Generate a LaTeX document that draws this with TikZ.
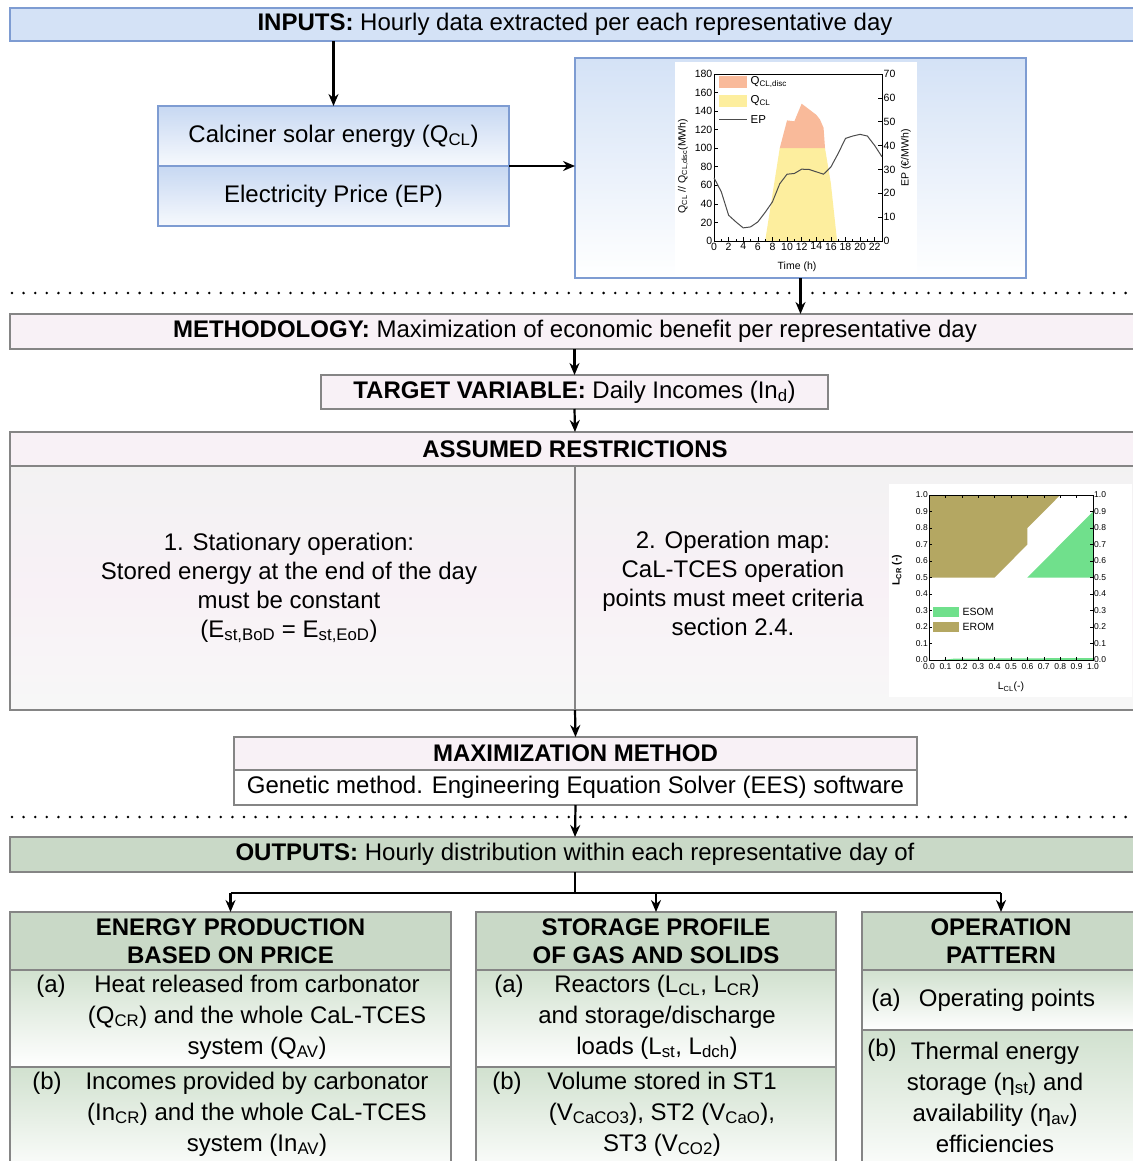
\documentclass[tikz,border=0pt]{standalone}
\usepackage{fontspec}
\setmainfont{Liberation Sans}
\usepackage{xcolor}
\usepackage{tikz}
\usetikzlibrary{positioning,arrows.meta}

\definecolor{inblue}{HTML}{D4E2F6}
\definecolor{inedge}{HTML}{7E9CD2}
\definecolor{cellblue}{HTML}{C7D8F2}
\definecolor{methpink}{HTML}{F8F1F6}
\definecolor{boxedge}{HTML}{858585}
\definecolor{outgreen}{HTML}{C9D9C7}
\definecolor{cellgreen}{HTML}{D1E1CF}
\definecolor{qdisc}{HTML}{F9BA9A}
\definecolor{qcl}{HTML}{FDEE9E}
\definecolor{esom}{HTML}{70E08C}
\definecolor{erom}{HTML}{B4A762}

\newcommand{\sbs}[1]{\textsubscript{#1}}

\begin{document}
\begin{tikzpicture}[x=1pt, y=-1pt,
  font=\fontsize{24}{29}\selectfont,
  bar/.style={draw=boxedge, line width=1.5pt, anchor=north west, inner sep=0pt, outer sep=0pt},
  inbar/.style={bar, draw=inedge, fill=inblue},
  incell/.style={bar, draw=inedge, top color=cellblue, bottom color=cellblue!15},
  pinkbar/.style={bar, fill=methpink},
  greenbar/.style={bar, fill=outgreen, align=center, font=\fontsize{24}{28}\selectfont\bfseries},
  greencell/.style={bar, top color=cellgreen, bottom color=white},
  celltext/.style={align=center, font=\fontsize{24}{31}\selectfont},
  tag/.style={inner sep=0pt},
  arr/.style={line width=2.2pt, -{Stealth[length=12pt, width=10pt]}},
  link/.style={line width=2.2pt},
  dotline/.style={line width=2.8pt, line cap=round, dash pattern=on 0pt off 11.6pt},
  tick/.style={font=\fontsize{10.5}{12}\selectfont, inner sep=1.5pt},
  mapt/.style={font=\fontsize{8.5}{10}\selectfont, inner sep=1pt}]
\useasboundingbox (0,0) rectangle (1132,1161);
\pgfkeys{/pgf/number format/.cd, fixed, fixed zerofill, precision=1, assume math mode=true}

% inputs
\node[inbar, minimum width=1130pt, minimum height=33pt] (inputs) at (10,8) {\textbf{INPUTS:} Hourly data extracted per each representative day};
\node[incell, minimum width=351pt, minimum height=60pt] (qcl) at (158,106) {Calciner solar energy (Q\sbs{CL})};
\node[incell, minimum width=351pt, minimum height=60pt, below=0pt of qcl] (ep) {Electricity Price (EP)};
\node[bar, draw=inedge, top color=inblue, bottom color=white, minimum width=451pt, minimum height=220pt] (chart) at (575,58) {};
\draw[arr] (inputs.south -| qcl.north) -- (qcl.north);
\draw[arr] (qcl.south east) -- (qcl.south east -| chart.west);

% hourly chart
\fill[white] (675,62) rectangle (917,275);
\begin{scope}[shift={(714,241)}, x=7.304pt, y=0.9278pt]
  \fill[qcl] (7,0) -- (9,100) -- (15.2,100) -- (16,62) -- (16.85,0) -- cycle;
  \fill[qdisc] (9,100) -- (10,130) -- (11,129) -- (12,148) -- (13,142) -- (14,136) -- (14.5,131) -- (15,122) -- (15.2,100) -- cycle;
  \draw[line width=0.7pt] (0,0) rectangle (23,180);
  \foreach \t in {0,2,...,22} {
    \draw[line width=0.6pt] (\t,0) -- (\t,4);
    \node[tick, below] at (\t,0) {\t};
  }
  \foreach \t in {1,3,...,23} \draw[line width=0.6pt] (\t,0) -- (\t,2);
  \foreach \v in {0,20,...,180} {
    \draw[line width=0.6pt] (0,\v) -- (0.5,\v);
    \node[tick, left] at (0,\v) {\v};
  }
\end{scope}
\begin{scope}[shift={(714,241)}, x=7.304pt, y=2.3857pt]
  \draw[line width=1pt, black!70] plot coordinates {(0,26.5) (1,20.6) (2,10.8) (3,8) (4,5.5) (5,5.9) (6,8) (7,12) (8,16.4) (9,24) (10,28) (11,28.3) (12,30.1) (13,30) (14,29) (15,28) (16,31) (17,36.7) (18,43) (19,44) (20,44.7) (21,44) (22,40) (23,35.3)};
  \foreach \v in {0,10,...,70} {
    \draw[line width=0.6pt] (23,\v) -- (22.5,\v);
    \node[tick, right] at (23,\v) {\v};
  }
\end{scope}
\node[tick, rotate=90] (qaxis) at (683,166) {Q\sbs{CL} // Q\sbs{CL,disc}(MWh)};
\node[tick, rotate=90] (epaxis) at (906,158) {EP (€/MWh)};
\node[tick] (taxis) at (797,267) {Time (h)};
\fill[qdisc] (719,76) rectangle (747,88);
\node[tick, anchor=west, font=\fontsize{11.5}{13}\selectfont] (lgdisc) at (749,82) {Q\sbs{CL,disc}};
\fill[qcl] (719,95) rectangle (747,107);
\node[tick, anchor=west, font=\fontsize{11.5}{13}\selectfont] (lgqcl) at (749,101) {Q\sbs{CL}};
\draw[line width=1pt, black!70] (719,120) -- (747,120);
\node[tick, anchor=west, font=\fontsize{11.5}{13}\selectfont] (lgep) at (749,120) {EP};

% methodology
\draw[dotline] (12,293) -- (1132,293);
\node[pinkbar, minimum width=1130pt, minimum height=35pt] (meth) at (10,314) {\textbf{METHODOLOGY:} Maximization of economic benefit per representative day};
\draw[arr] (chart.south) -- (chart.south |- meth.north);
\node[pinkbar, minimum width=507pt, minimum height=34pt] (target) at (321,375) {\textbf{TARGET VARIABLE:} Daily Incomes (In\sbs{d})};
\draw[arr] (meth.south -| target.north) -- (target.north);

% restrictions
\node[pinkbar, minimum width=1130pt, minimum height=34pt] (resth) at (10,432) {\textbf{ASSUMED RESTRICTIONS}};
\draw[arr] (target.south) -- (resth.north);
\node[bar, top color=black!5, bottom color=black!3, middle color=methpink, minimum width=1130pt, minimum height=244pt, below=0pt of resth] (restb) {};
\draw[line width=1.5pt, boxedge] (resth.south) -- (restb.south);
\node[align=center] (stat) at (289,588) {1. Stationary operation:\\Stored energy at the end of the day\\must be constant\\(E\sbs{st,BoD} = E\sbs{st,EoD})};
\node[align=center] (opmap) at (733,583) {2. Operation map:\\CaL-TCES operation\\points must meet criteria\\section 2.4.};

% operation map
\fill[white] (889,484) rectangle (1132,697);
\begin{scope}[shift={(929,660)}, x=164pt, y=165pt]
  \fill[erom] (0,0.5) -- (0,1) -- (0.8,1) -- (0.6,0.8) -- (0.6,0.7) -- (0.4,0.5) -- cycle;
  \fill[esom] (0.6,0.5) -- (1,0.9) -- (1,0.5) -- cycle;
  \fill[esom] (0.08,0) -- (1,0) -- (1,0.012) -- (0.15,0.008) -- cycle;
  \draw[line width=0.6pt] (0,0) rectangle (1,1);
  \foreach \i in {0,...,10} {
    \pgfmathsetmacro\v{\i/10}
    \draw[line width=0.5pt] (\v,0) -- (\v,0.02) (0,\v) -- (0.02,\v) (1,\v) -- (0.98,\v) (\v,1) -- (\v,0.98);
    \node[mapt, below=2pt] at (\v,0) {\pgfmathprintnumber{\v}};
    \node[mapt, left] at (0,\v) {\pgfmathprintnumber{\v}};
    \node[mapt, right] at (1,\v) {\pgfmathprintnumber{\v}};
  }
\end{scope}
\fill[esom] (933,607) rectangle (959,617);
\node[tick, anchor=west] (lgesom) at (961,612) {ESOM};
\fill[erom] (933,622) rectangle (959,632);
\node[tick, anchor=west] (lgerom) at (961,627) {EROM};
\node[tick, rotate=90, font=\fontsize{10.5}{12}\selectfont\bfseries] (lcr) at (897,570) {L\sbs{CR} (-)};
\node[tick] (lcl) at (1011,687) {L\sbs{CL}(-)};

% maximization
\node[pinkbar, minimum width=683pt, minimum height=33pt] (maxh) at (234,737) {\textbf{MAXIMIZATION METHOD}};
\node[bar, fill=white, minimum width=683pt, minimum height=35pt, below=0pt of maxh] (maxb) {Genetic method. Engineering Equation Solver (EES) software};
\draw[arr] (restb.south) -- (maxh.north);

% outputs
\draw[dotline] (12,817) -- (1132,817);
\node[greenbar, minimum width=1130pt, minimum height=35pt, font=\fontsize{24}{29}\selectfont] (outputs) at (10,837) {\textbf{OUTPUTS:} Hourly distribution within each representative day of};
\draw[arr] (maxb.south) -- (outputs.north);

\node[greenbar, minimum width=441pt, minimum height=58pt] (prod) at (10,912) {ENERGY PRODUCTION\\BASED ON PRICE};
\node[greencell, minimum width=441pt, minimum height=97pt, below=0pt of prod] (proda) {};
\node[greencell, minimum width=441pt, minimum height=110pt, below=0pt of proda] (prodb) {};
\node[greenbar, minimum width=360pt, minimum height=58pt] (stor) at (476,912) {STORAGE PROFILE\\OF GAS AND SOLIDS};
\node[greencell, minimum width=360pt, minimum height=97pt, below=0pt of stor] (stora) {};
\node[greencell, minimum width=360pt, minimum height=110pt, below=0pt of stora] (storb) {};
\node[greenbar, minimum width=278pt, minimum height=58pt] (patt) at (862,912) {OPERATION\\PATTERN};
\node[greencell, minimum width=278pt, minimum height=60pt, below=0pt of patt] (patta) {};
\node[greencell, minimum width=278pt, minimum height=150pt, below=0pt of patta] (pattb) {};

\coordinate (fork) at (575,893);
\draw[link] (outputs.south) -- (fork);
\draw[link] (prod.north |- fork) -- (patt.north |- fork);
\foreach \n in {prod,stor,patt} \draw[arr] (\n.north |- fork) -- (\n.north);

% output items
\node[tag] (prodatag) at (51,986) {(a)};
\node[celltext] (prodat) at (257,1017) {Heat released from carbonator\\(Q\sbs{CR}) and the whole CaL-TCES\\system (Q\sbs{AV})};
\node[tag] (prodbtag) at (47,1083) {(b)};
\node[celltext] (prodbt) at (257,1114) {Incomes provided by carbonator\\(In\sbs{CR}) and the whole CaL-TCES\\system (In\sbs{AV})};
\node[tag] (storatag) at (509,986) {(a)};
\node[celltext] (storat) at (657,1017) {Reactors (L\sbs{CL}, L\sbs{CR})\\and storage/discharge\\loads (L\sbs{st}, L\sbs{dch})};
\node[tag] (storbtag) at (507,1083) {(b)};
\node[celltext] (storbt) at (662,1114) {Volume stored in ST1\\(V\sbs{CaCO3}), ST2 (V\sbs{CaO}),\\ST3 (V\sbs{CO2})};
\node[tag] (pattatag) at (886,1000) {(a)};
\node (pattat) at (1007,1000) {Operating points};
\node[tag] (pattbtag) at (882,1050) {(b)};
\node[celltext] (pattbt) at (995,1097) {Thermal energy\\storage (η\sbs{st}) and\\availability (η\sbs{av})\\efficiencies};
\end{tikzpicture}
\end{document}
